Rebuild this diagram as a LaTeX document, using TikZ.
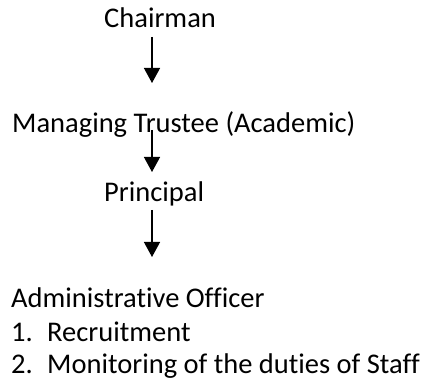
\documentclass[tikz,border=0pt]{standalone}
\usepackage{fontspec}
\setmainfont[Ligatures=NoCommon]{Carlito}
\usetikzlibrary{arrows.meta}
\tikzset{
  lbl/.style={anchor=base west, inner sep=0pt, font=\fontsize{28.5}{33}\selectfont},
  conn/.style={line width=1.3pt, -{Triangle[width=16pt,length=15pt]}}
}
\begin{document}
\begin{tikzpicture}[x=1pt,y=1pt]
\useasboundingbox (0,0) rectangle (425,385);
\node[lbl] (chair) at (104,357) {Chairman};
\node[lbl] (mt) at (12,252) {Managing Trustee (Academic)};
\node[lbl] (prin) at (104,183) {Principal};
\node[lbl] (ao) at (11,77) {Administrative Officer};
\node[lbl] (l1) at (11,43) {\makebox[36pt][l]{1.}Recruitment};
\node[lbl] (l2) at (11,12) {\makebox[36pt][l]{2.}Monitoring of the duties of Staff};
\coordinate (a1s) at (152,348);
\coordinate (a1e) at (152,302);
\coordinate (a2s) at (152,255);
\coordinate (a2e) at (152,213);
\coordinate (a3s) at (152,175);
\coordinate (a3e) at (152,128);
\draw[conn] (a1s) -- (a1e);
\draw[conn] (a2s) -- (a2e);
\draw[conn] (a3s) -- (a3e);
\end{tikzpicture}
\end{document}
